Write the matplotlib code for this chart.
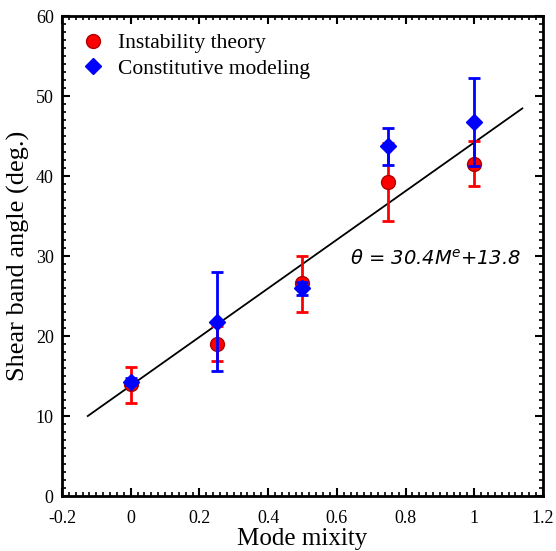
import matplotlib
matplotlib.use("Agg")
import matplotlib.pyplot as plt
import numpy as np
from matplotlib.ticker import MultipleLocator
from matplotlib.lines import Line2D

# Data
mode_mixity = [0.0, 0.25, 0.5, 0.75, 1.0]
instab_vals = [14.0, 19.0, 26.6, 39.3, 41.5]
instab_lo = [11.6, 16.9, 23.0, 34.4, 38.7]
instab_hi = [16.1, 21.2, 30.0, 44.1, 44.4]
const_vals = [14.3, 21.8, 26.0, 43.7, 46.8]
const_lo = [13.9, 15.6, 25.1, 41.4, 41.3]
const_hi = [14.7, 28.0, 26.8, 46.0, 52.3]
fit_slope = 30.4
fit_intercept = 13.8
fit_x_range = [-0.125, 1.14]

plt.rcParams['font.family'] = ['Liberation Serif', 'DejaVu Serif']

fig = plt.figure(figsize=(5.56, 5.51), dpi=100)
ax = fig.add_axes([0.1115, 0.0998, 0.865, 0.871])

fx = np.array(fit_x_range)
ax.plot(fx, fit_slope * fx + fit_intercept, color='black', lw=1.3, zorder=2)

x = np.array(mode_mixity)
iv = np.array(instab_vals)
ax.errorbar(x, iv, yerr=[iv - np.array(instab_lo), np.array(instab_hi) - iv],
            fmt='o', color='red', ecolor='red', mec='#b00000', ms=10, elinewidth=2,
            capsize=4, capthick=2, zorder=3)
cv = np.array(const_vals)
ax.errorbar(x, cv, yerr=[cv - np.array(const_lo), np.array(const_hi) - cv],
            fmt='D', color='blue', ecolor='blue', mec='blue', ms=8.5, elinewidth=2,
            capsize=4, capthick=2, zorder=4)

ax.set_xlim(-0.2, 1.2)
ax.set_ylim(0, 60)
ax.xaxis.set_minor_locator(MultipleLocator(0.02))
ax.yaxis.set_major_locator(MultipleLocator(10))
ax.yaxis.set_minor_locator(MultipleLocator(1))
ax.set_xticks(np.arange(-0.2, 1.21, 0.2))
ax.set_xticklabels(['-0.2', '0', '0.2', '0.4', '0.6', '0.8', '1', '1.2'])
ax.tick_params(which='both', direction='in', top=True, right=True, labelsize=13)
ax.tick_params(axis='x', which='major', pad=10)
ax.tick_params(axis='y', which='major', pad=6)
ax.tick_params(which='major', length=6, width=1.5)
ax.tick_params(which='minor', length=3, width=1.2)
for s in ax.spines.values():
    s.set_linewidth(2)

ax.set_xlabel('Mode mixity', fontsize=18, labelpad=1)
ax.set_ylabel('Shear band angle (deg.)', fontsize=19, labelpad=4)

ax.text(0.638, 29.7, r'$\theta$ = 30.4M$^{\mathregular{e}}$+13.8', fontsize=14, style='italic',
        family=['DejaVu Sans'], va='center')

handles = [Line2D([], [], ls='none', marker='o', color='red', mec='#b00000', ms=10),
           Line2D([], [], ls='none', marker='D', color='blue', mec='blue', ms=8.5)]
ax.legend(handles, ['Instability theory', 'Constitutive modeling'],
          loc='upper left', bbox_to_anchor=(0.0, 1.0), frameon=False, fontsize=15.5,
          handletextpad=0.5, borderaxespad=0.4, labelspacing=0.25, handlelength=1.3)

fig.savefig('out.png', dpi=100)
